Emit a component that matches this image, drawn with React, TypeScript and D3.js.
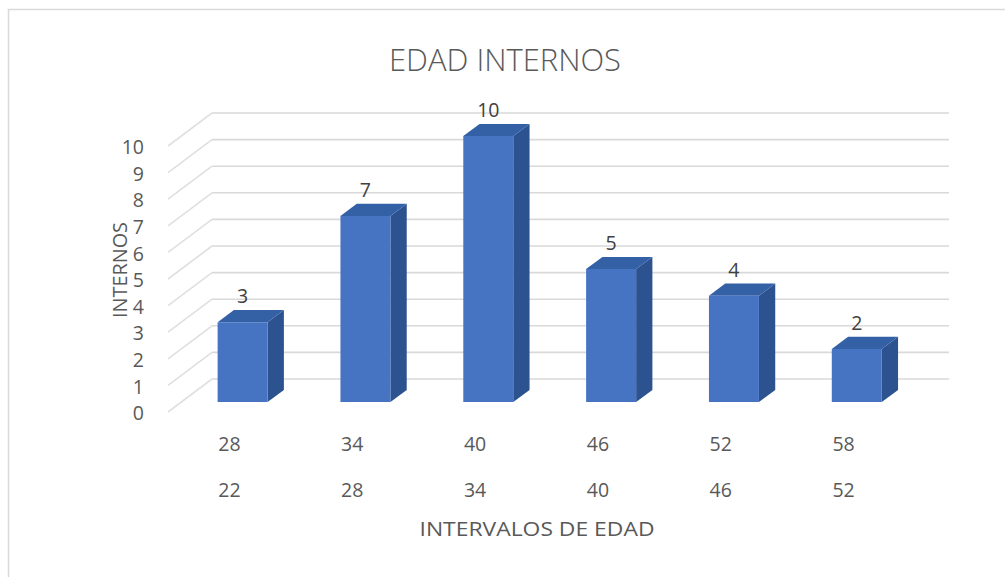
import React from "react";
import * as d3 from "d3";

const categories = ["22-28", "28-34", "34-40", "40-46", "46-52", "52-58"];
const upperLabels = ["28", "34", "40", "46", "52", "58"];
const lowerLabels = ["22", "28", "34", "40", "46", "52"];
const values = [3, 7, 10, 5, 4, 2];
const yTicks = [0, 1, 2, 3, 4, 5, 6, 7, 8, 9, 10];

const W = 1005;
const H = 577;
const DX = 44; // depth offset x
const DY = -33; // depth offset y
const D0 = 0.3;
const D1 = 0.67;
const FONT = "'Open Sans', 'Liberation Sans', sans-serif";
const TXT = "#595959";
const FS = 19.5;

export default function App() {
  const x = d3
    .scaleBand<string>()
    .domain(categories)
    .range([168, 905])
    .paddingInner(0.593)
    .paddingOuter(0.2965);
  const y = d3.scaleLinear().domain([0, 10]).range([412, 146]);
  const bw = x.bandwidth();
  const x0 = 168;
  const x1 = 905;

  const pt = (px: number, py: number, d: number) => `${px + d * DX},${py + d * DY}`;

  return (
    <svg
      width={W}
      height={H}
      style={{ position: "absolute", left: 0, top: 0, background: "#fff" }}
      fontFamily={FONT}
    >
      <rect x={0} y={0} width={W} height={H} fill="#fff" />
      <path d={`M8.5,${H} L8.5,9.5 L${W},9.5`} fill="none" stroke="#d9d9d9" strokeWidth={1.5} />

      {/* title */}
      <text
        x={505}
        y={71}
        textAnchor="middle"
        fontSize={31}
        fontWeight={300}
        fill={TXT}
        textLength={232}
        lengthAdjust="spacingAndGlyphs"
      >
        EDAD INTERNOS
      </text>

      {/* back wall + side wall gridlines */}
      {yTicks.map((t) => (
        <g key={t}>
          <line
            x1={x0 + DX}
            x2={x1 + DX}
            y1={y(t) + DY}
            y2={y(t) + DY}
            stroke="#d9d9d9"
            strokeWidth={1.6}
          />
          <line
            x1={x0}
            y1={y(t)}
            x2={x0 + DX}
            y2={y(t) + DY}
            stroke="#e0e0e0"
            strokeWidth={1.6}
          />
        </g>
      ))}

      {/* y tick labels */}
      {yTicks.map((t) => (
        <text
          key={"yt" + t}
          x={144}
          y={y(t) + 3}
          textAnchor="end"
          dominantBaseline="middle"
          fontSize={FS}
          fill={TXT}
        >
          {t}
        </text>
      ))}

      {/* bars */}
      {categories.map((c, i) => {
        const bx = x(c)!;
        const bxr = bx + bw;
        const yb = y(0);
        const yt = y(values[i]);
        const front = `M${pt(bx, yb, D0)} L${pt(bxr, yb, D0)} L${pt(bxr, yt, D0)} L${pt(bx, yt, D0)} Z`;
        const side = `M${pt(bxr, yb, D0)} L${pt(bxr, yb, D1)} L${pt(bxr, yt, D1)} L${pt(bxr, yt, D0)} Z`;
        const top = `M${pt(bx, yt, D0)} L${pt(bxr, yt, D0)} L${pt(bxr, yt, D1)} L${pt(bx, yt, D1)} Z`;
        return (
          <g key={c}>
            <path d={side} fill="#2d5290" />
            <path d={top} fill="#3460a6" />
            <path d={front} fill="#4674c3" />
            <text
              x={bx + bw / 2 + D0 * DX}
              y={yt + D1 * DY - 12}
              textAnchor="middle"
              dominantBaseline="middle"
              fontSize={FS}
              fill="#404040"
            >
              {values[i]}
            </text>
          </g>
        );
      })}

      {/* category labels */}
      {categories.map((c, i) => (
        <g key={"cl" + c}>
          <text
            x={x(c)! + bw / 2}
            y={446}
            textAnchor="middle"
            dominantBaseline="middle"
            fontSize={FS}
            fill={TXT}
          >
            {upperLabels[i]}
          </text>
          <text
            x={x(c)! + bw / 2}
            y={492}
            textAnchor="middle"
            dominantBaseline="middle"
            fontSize={FS}
            fill={TXT}
          >
            {lowerLabels[i]}
          </text>
        </g>
      ))}

      {/* axis titles */}
      <text
        x={537}
        y={531}
        textAnchor="middle"
        dominantBaseline="middle"
        fontSize={FS}
        fill={TXT}
        textLength={235}
        lengthAdjust="spacingAndGlyphs"
      >
        INTERVALOS DE EDAD
      </text>
      <text
        transform={`translate(122,270) rotate(-90)`}
        textAnchor="middle"
        dominantBaseline="middle"
        fontSize={FS}
        fill={TXT}
        textLength={96}
        lengthAdjust="spacingAndGlyphs"
      >
        INTERNOS
      </text>
    </svg>
  );
}
